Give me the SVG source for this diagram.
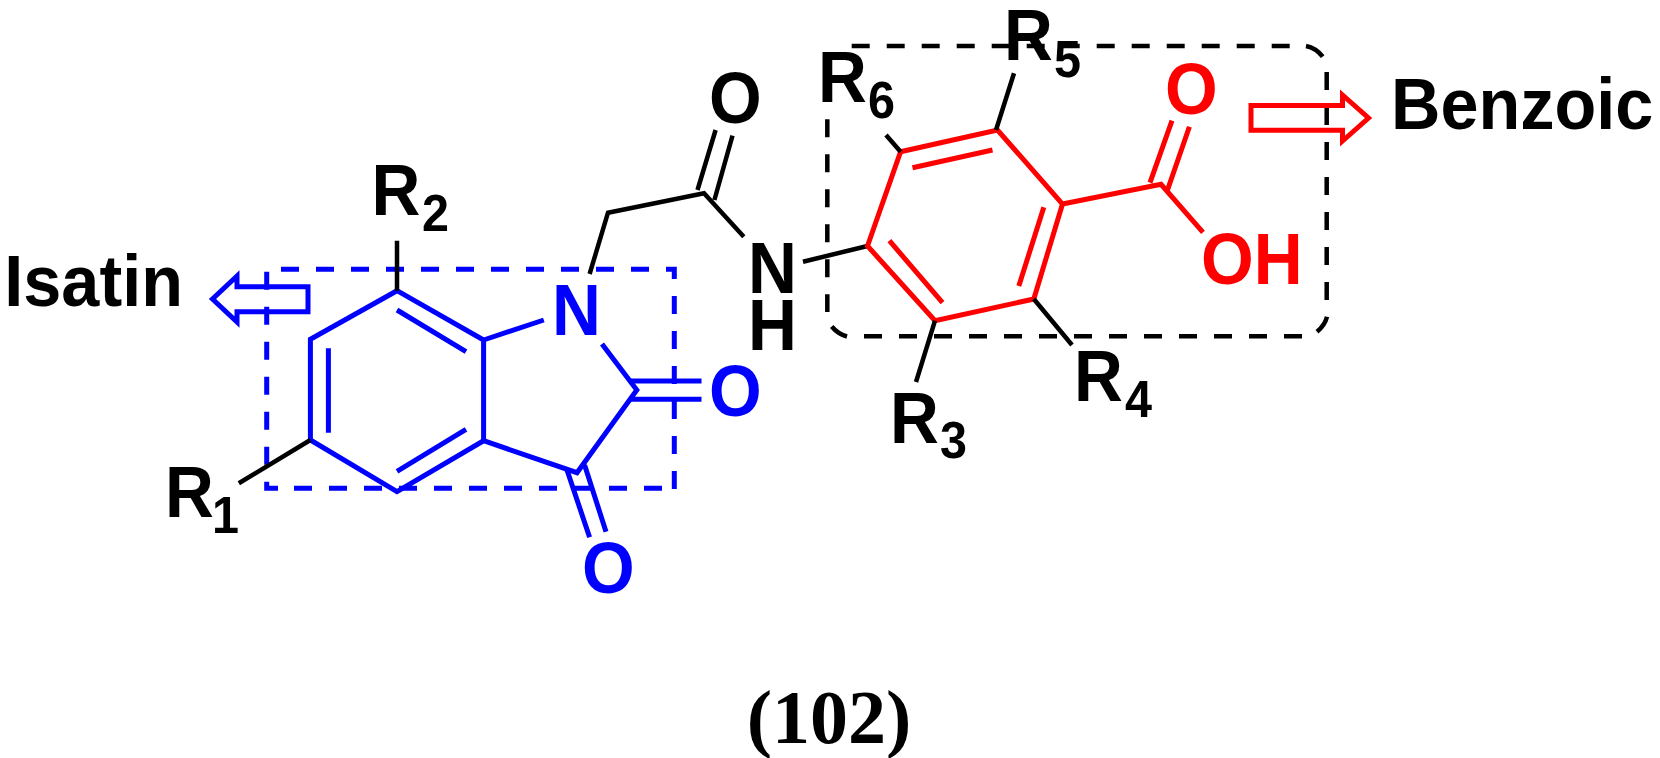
<svg xmlns="http://www.w3.org/2000/svg" width="1660" height="758" viewBox="0 0 1660 758">
<style>
text{font-family:"Liberation Sans",Arial,sans-serif;font-weight:700;font-size:72px}
.s{font-size:52px}
.k{fill:#000}.b{fill:#0000ff}.r{fill:#ff0000}
.lk,.lb,.lr{fill:none;stroke-width:5;stroke-linejoin:miter}
.lk{stroke:#000;stroke-width:4.500}.lb{stroke:#0000ff}.lr{stroke:#ff0000}
.d{stroke-dasharray:18 17}
</style>
<rect width="1660" height="758" fill="#fff"/>
<g id="connectors">
<path class="lb d" d="M281 269.300H674.300V490"/>
<path class="lb d" d="M266.700 271.700V488.300H278"/>
<path class="lb d" d="M294 488.300H674"/>
<path class="lk d" d="M851.700 46H1296"/>
<path class="lk d" d="M1326.700 72V300"/>
<path class="lk d" d="M864 336.300H1302"/>
<path class="lk d" d="M827.300 119.300V312"/>
<path class="lk" d="M1306 46Q1316 48 1322.700 56.700M1327 316.700Q1325 325 1317 331.700M831.700 326.500Q838 334 847 336.500"/>
<path class="lb" d="M397 290.700L483.600 340V440.700L397 491.700L310.400 440V339.300Z"/>
<path class="lb" d="M397 310L466 351.700M328.400 348.300V432.700M397 471.300L466 429.300"/>
<path class="lb" d="M483.600 340L543.800 320M602 344L636.800 390L577 472.700L483.600 440.700"/>
<path class="lb" d="M631 381H701.500M631 399.300H701.500M567 470L589.600 537.300M584.600 465L606 531.700"/>
<path class="lb" d="M237 276L212.500 299L237 322V311.700H308V286.700H237Z"/>
<path class="lk" d="M397 240.700V290.700M310.400 440L238.800 483.300"/>
<path class="lk" d="M589.600 274L608 212.700L704 193.300L743.800 236.700"/>
<path class="lk" d="M715.600 130L697.500 190M732.500 135.700L714.400 200"/>
<path class="lk" d="M803 261.700L867.500 246"/>
<path class="lr" d="M867.500 246L900.600 151.700L997.500 130L1062.500 204L1033.800 299L935 320.700Z"/>
<path class="lr" d="M912.500 167.700L992.500 150M1043.800 207.300L1018.800 286M889.400 240.700L942.500 302.700"/>
<path class="lr" d="M1062.500 204L1161 184.300L1203 232.300M1150 182.700L1172 120.700M1167.500 190L1189.400 126.700"/>
<path class="lr" d="M1251 105.500V130.300H1342.500V141L1368.500 118L1342.500 95V105.500Z"/>
<path class="lk" d="M1014 73.300L996 130M886 135L900.600 151.700M935 320.700L916 382M1033.800 299L1072 345"/>
</g>
<g id="isatin-label"><text class="k" transform="translate(4.300 306) scale(.95 1)">Isatin</text></g>
<g id="benzoic-label"><text class="k" transform="translate(1391 129) scale(.95 1)">Benzoic</text></g>
<g id="r1"><text class="k" transform="translate(165 517) scale(.94 1)">R</text><text class="k s" transform="translate(212 533) scale(.934 1)">1</text></g>
<g id="r2"><text class="k" transform="translate(371.500 215) scale(.94 1)">R</text><text class="k s" transform="translate(422 231) scale(.934 1)">2</text></g>
<g id="r3"><text class="k" transform="translate(890 443) scale(.94 1)">R</text><text class="k s" transform="translate(940 458) scale(.934 1)">3</text></g>
<g id="r4"><text class="k" transform="translate(1074 401) scale(.94 1)">R</text><text class="k s" transform="translate(1125 417) scale(.934 1)">4</text></g>
<g id="r5"><text class="k" transform="translate(1004 60) scale(.94 1)">R</text><text class="k s" transform="translate(1054 76.700) scale(.934 1)">5</text></g>
<g id="r6"><text class="k" transform="translate(818 101.700) scale(.94 1)">R</text><text class="k s" transform="translate(868 118) scale(.934 1)">6</text></g>
<g id="n1"><text class="b" transform="translate(552 335) scale(.94 1)">N</text></g>
<g id="o1"><text class="b" transform="translate(709 416) scale(.94 1)">O</text></g>
<g id="o2"><text class="b" transform="translate(582 593) scale(.94 1)">O</text></g>
<g id="o3"><text class="k" transform="translate(709 123) scale(.94 1)">O</text></g>
<g id="nh"><text class="k" transform="translate(748 293) scale(.94 1)">N</text><text class="k" transform="translate(748 350) scale(.94 1)">H</text></g>
<g id="o4"><text class="r" transform="translate(1165 114) scale(.94 1)">O</text></g>
<g id="oh"><text class="r" transform="translate(1201 284) scale(.94 1)">OH</text></g>
<g id="caption"><text x="829" y="743" text-anchor="middle" style="font-family:'Liberation Serif',serif;font-size:76px">(102)</text></g>
</svg>
